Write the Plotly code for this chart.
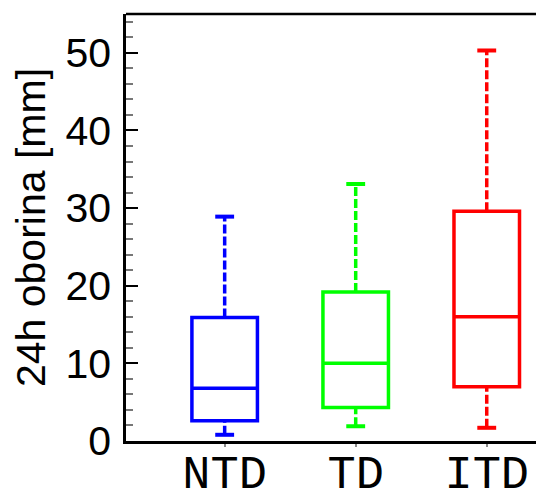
import plotly.graph_objects as go

categories = ["NTD", "TD", "ITD"]
colors = ["#0000ff", "#00ff00", "#ff0000"]
lower_whisker = [0.8, 1.9, 1.7]
q1 = [2.6, 4.3, 7.0]
median = [6.8, 10.0, 16.0]
q3 = [15.9, 19.2, 29.6]
upper_whisker = [28.9, 33.1, 50.3]

y_ticks = [0, 10, 20, 30, 40, 50]

BOX_W = 0.5
CAP_HALF = 0.072
FONT = "Liberation Sans, Arial, sans-serif"
XFONT = "Liberation Mono, monospace"

fig = go.Figure()
xs = list(range(len(categories)))
for i, cat in enumerate(categories):
    c = colors[i]
    # dashed whiskers
    fig.add_trace(go.Scatter(x=[xs[i], xs[i]], y=[q3[i], upper_whisker[i]], mode="lines",
                             line=dict(color=c, width=3.5, dash="9px,3px"), showlegend=False, hoverinfo="skip"))
    fig.add_trace(go.Scatter(x=[xs[i], xs[i]], y=[lower_whisker[i], q1[i]], mode="lines",
                             line=dict(color=c, width=3.5, dash="9px,3px"), showlegend=False, hoverinfo="skip"))
    # caps
    for v in (upper_whisker[i], lower_whisker[i]):
        fig.add_trace(go.Scatter(x=[xs[i] - CAP_HALF, xs[i] + CAP_HALF], y=[v, v], mode="lines",
                                 line=dict(color=c, width=4), showlegend=False, hoverinfo="skip"))
    # box
    fig.add_trace(go.Box(x=[xs[i]], q1=[q1[i]], median=[median[i]], q3=[q3[i]],
                         lowerfence=[q1[i]], upperfence=[q3[i]], width=BOX_W,
                         line=dict(color=c, width=3.5), fillcolor="rgba(0,0,0,0)",
                         boxpoints=False, showlegend=False, name=cat))

fig.update_layout(
    width=536, height=484,
    margin=dict(l=118, r=0, t=6, b=51),
    plot_bgcolor="white", paper_bgcolor="white",
    font=dict(family=FONT, color="black"),
    showlegend=False,
)
fig.update_xaxes(
    range=[-0.753, 2.437], tickvals=xs, ticktext=categories, automargin=False,
    showgrid=False, zeroline=False, showline=True, linecolor="black", linewidth=2.5,
    ticks="outside", ticklen=3, tickcolor="#888888", tickwidth=1.5,
    tickfont=dict(size=47, family=XFONT), ticklabelstandoff=-15,
)
fig.update_yaxes(
    range=[0, 55], tickvals=y_ticks, automargin=False,
    showgrid=False, zeroline=False, showline=True, linecolor="black", linewidth=2.5,
    ticks="inside", ticklen=12, tickwidth=2, tickcolor="black",
    minor=dict(dtick=2, ticks="inside", ticklen=7, tickcolor="#777777", tickwidth=1.5, showgrid=False),
    tickfont=dict(size=41, family=FONT), ticklabelstandoff=4,
    title=dict(text="24h oborina [mm]", font=dict(size=41, family=FONT), standoff=10),
)
fig.add_shape(type="line", xref="paper", yref="paper", x0=0, x1=1, y0=1, y1=1,
              line=dict(color="black", width=2.5))

fig.write_html("out.html")
